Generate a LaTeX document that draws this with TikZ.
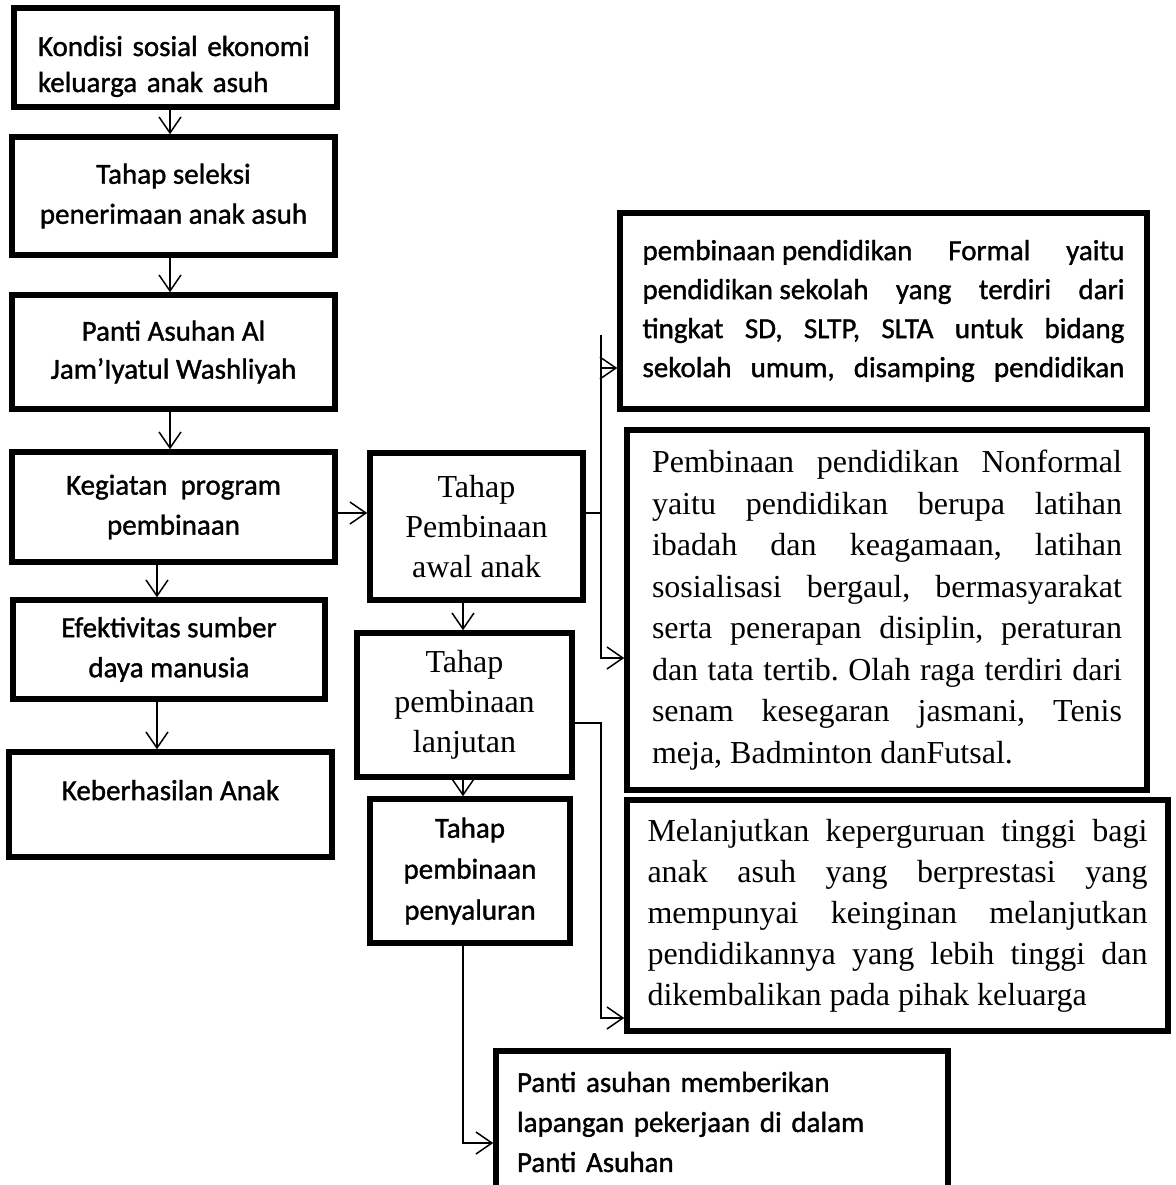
\documentclass[tikz,border=0pt]{standalone}
\usepackage{fontspec}
\setmainfont{Liberation Serif}
\newfontfamily\sansf{Carlito}[FakeBold=1.2]
\usetikzlibrary{arrows.meta}
\setlength{\parindent}{0pt}
\frenchspacing

\tikzset{
  box/.style={draw, line width=2.75pt, inner sep=0pt, align=center},
  sanstext/.style={font=\sansf\fontsize{14.5pt}{20pt}\selectfont},
  seriftext/.style={font=\fontsize{16pt}{20.5pt}\selectfont},
  arr/.style={-{Straight Barb[length=8pt,width=11pt]}, line width=0.75pt},
  link/.style={line width=0.75pt}
}

\begin{document}
\begin{tikzpicture}[x=0.5pt, y=-0.5pt]
  \useasboundingbox (0,0) rectangle (1175,1185);
  \clip (0,0) rectangle (1175,1185);

  % Left column
  \node[box, sanstext, minimum width=161.5pt, minimum height=49.5pt, text width=137.5pt, align=left,
        font=\sansf\fontsize{14.5pt}{18pt}\selectfont] (kondisi) at (175.5,57.5)
        {\rule{0pt}{19pt}Kondisi sosial ekonomi\\keluarga anak asuh};
  \node[box, sanstext, minimum width=161.5pt, minimum height=59pt] (seleksi) at (173.5,196)
        {Tahap seleksi\\penerimaan anak asuh};
  \node[box, sanstext, minimum width=161.5pt, minimum height=57pt,
        font=\sansf\fontsize{14.5pt}{19pt}\selectfont] (panti) at (173.5,352)
        {Panti Asuhan Al\\Jam’Iyatul Washliyah};
  \node[box, sanstext, minimum width=161.5pt, minimum height=55pt] (kegiatan) at (173.5,507)
        {Kegiatan\ \ program\\pembinaan};
  \node[box, sanstext, minimum width=156pt, minimum height=49.5pt] (efektif) at (169,649.5)
        {Efektivitas sumber\\daya manusia};
  \node[box, sanstext, minimum width=161.5pt, minimum height=52.5pt] (hasil) at (170.5,804.5)
        {Keberhasilan Anak\rule[-14.5pt]{0pt}{14.5pt}};

  % Tahap pembinaan
  \node[box, seriftext, minimum width=106.5pt, minimum height=73.5pt, font=\fontsize{16pt}{20pt}\selectfont]
        (awal) at (476.5,526.5) {Tahap\\Pembinaan\\awal anak};
  \node[box, seriftext, minimum width=107.5pt, minimum height=72pt, font=\fontsize{16pt}{20pt}\selectfont]
        (lanjut) at (464.5,705) {Tahap\\pembinaan\\lanjutan};
  \node[box, sanstext, minimum width=100pt, minimum height=72pt, font=\sansf\fontsize{14.5pt}{20.5pt}\selectfont]
        (salur) at (470,871) {Tahap\\pembinaan\\penyaluran};

  % Keterangan
  \node[box, minimum width=263.5pt, minimum height=98pt, text width=241pt, align=justify,
        font=\sansf\fontsize{14.5pt}{19.5pt}\selectfont] (formal) at (883.5,311)
        {\tolerance=10000 \hbadness=10000
         \mbox{pembinaan pendidikan} Formal yaitu\linebreak
         \mbox{pendidikan sekolah} yang terdiri dari\linebreak
         tingkat SD, SLTP, SLTA untuk bidang\linebreak
         \makebox[\hsize][s]{sekolah umum, disamping pendidikan}};
  \node[box, minimum width=260pt, minimum height=180pt, text width=235pt, align=justify,
        font=\fontsize{16pt}{20.75pt}\selectfont] (nonformal) at (887,610)
        {\tolerance=10000 \hbadness=10000
         Pembinaan pendidikan Nonformal\linebreak
         yaitu pendidikan berupa latihan\linebreak
         ibadah dan keagamaan, latihan\linebreak
         sosialisasi bergaul, bermasyarakat\linebreak
         serta penerapan disiplin, peraturan\linebreak
         dan tata tertib. Olah raga terdiri dari\linebreak
         senam kesegaran jasmani, Tenis\linebreak
         meja, Badminton danFutsal.};
  \node[box, minimum width=270.5pt, minimum height=115.5pt, text width=250pt, align=justify,
        font=\fontsize{16pt}{20.5pt}\selectfont] (lanjutkan) at (897.5,915.5)
        {\tolerance=10000 \hbadness=10000
         Melanjutkan keperguruan tinggi bagi\linebreak
         anak asuh yang berprestasi yang\linebreak
         mempunyai keinginan melanjutkan\linebreak
         pendidikannya yang lebih tinggi dan\linebreak
         dikembalikan pada pihak keluarga};
  \node[box, sanstext, minimum width=226pt, minimum height=71pt, text width=205pt, align=left]
        (kerja) at (722,1122)
        {Panti asuhan memberikan\\lapangan pekerjaan di dalam\\Panti Asuhan};

  % Connector positions
  \coordinate (xl) at (170,0);
  \coordinate (xm) at (157,0);
  \coordinate (xt) at (463,0);
  \coordinate (xr) at (601,0);
  \coordinate (ya) at (0,513);
  \coordinate (ytop) at (0,335);
  \coordinate (yfo) at (0,368);
  \coordinate (yno) at (0,658);
  \coordinate (yg) at (0,723);
  \coordinate (yme) at (0,1018);
  \coordinate (ypa) at (0,1143);

  % Arrows
  \draw[arr] (kondisi.south -| xl) -- (seleksi.north -| xl);
  \draw[arr] (seleksi.south -| xl) -- (panti.north -| xl);
  \draw[arr] (panti.south -| xl) -- (kegiatan.north -| xl);
  \draw[arr] (kegiatan.south -| xm) -- (efektif.north -| xm);
  \draw[arr] (efektif.south -| xm) -- (hasil.north -| xm);
  \draw[arr] (kegiatan.east |- ya) -- (awal.west |- ya);
  \draw[arr] (awal.south -| xt) -- (lanjut.north -| xt);
  \draw[arr] (lanjut.south -| xt) -- (salur.north -| xt);

  \draw[link] (awal.east |- ya) -- (xr |- ya);
  \draw[arr] (xr |- ytop) |- (formal.west |- yfo);
  \draw[arr] (xr |- ytop) |- (nonformal.west |- yno);
  \draw[arr] (lanjut.east |- yg) -| (xr |- yme) -- (lanjutkan.west |- yme);
  \draw[arr] (salur.south -| xt) |- (kerja.west |- ypa);
\end{tikzpicture}
\end{document}
